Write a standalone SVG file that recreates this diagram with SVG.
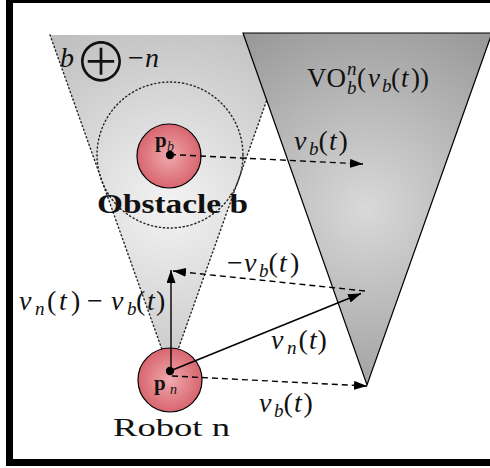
<svg xmlns="http://www.w3.org/2000/svg" width="490" height="468" viewBox="0 0 490 468">
<defs>
<radialGradient id="gCone" gradientUnits="userSpaceOnUse" cx="170" cy="205" r="210">
<stop offset="0" stop-color="#f3f3f3"/>
<stop offset="1" stop-color="#bcbcbc"/>
</radialGradient>
<radialGradient id="gVO" gradientUnits="userSpaceOnUse" cx="366" cy="209" r="215">
<stop offset="0" stop-color="#d9d9d9"/>
<stop offset="1" stop-color="#979797"/>
</radialGradient>
<radialGradient id="gBall" cx="0.5" cy="0.5" r="0.5">
<stop offset="0" stop-color="#f0aaae"/>
<stop offset="1" stop-color="#d8656e"/>
</radialGradient>
<marker id="ah" markerUnits="userSpaceOnUse" markerWidth="14" markerHeight="10" refX="13" refY="4.5" orient="auto">
<path d="M0,0 L13,4.5 L0,9 Z" fill="#000"/>
</marker>
</defs>
<style>
.dot{fill:none;stroke:#222;stroke-width:1.4;stroke-dasharray:1.2 2.8;stroke-linecap:round}
.dash{fill:none;stroke:#000;stroke-width:1.4;stroke-dasharray:6 4;marker-end:url(#ah)}
.solid{fill:none;stroke:#000;stroke-width:1.4;marker-end:url(#ah)}
.ball{fill:url(#gBall);stroke:#000;stroke-width:1.2}
.m{font-family:"Liberation Serif",serif;font-size:28px;fill:#111}
.i{font-style:italic}
.s{font-size:19px;font-style:italic}
.bold{font-family:"Liberation Serif",serif;font-weight:bold;fill:#111}
</style>
<rect x="0" y="0" width="490" height="468" fill="#fff"/>
<g id="cone-bn">
<polygon points="50,35 290,35 170,372" fill="url(#gCone)"/>
<polyline points="50,35 170,372 290,35" class="dot"/>
<circle cx="170" cy="155" r="73" class="dot"/>
</g>
<g id="vo-cone">
<polygon points="243,33 492,33 367,385" fill="url(#gVO)" stroke="#000" stroke-width="1.2"/>
</g>
<g id="obstacle-b">
<circle cx="169" cy="156" r="32" class="ball"/>
</g>
<g id="robot-n">
<circle cx="170" cy="380" r="32" class="ball"/>
</g>
<g id="connectors">
<line x1="170" y1="154.5" x2="363" y2="164" class="dash"/>
<line x1="170" y1="371" x2="361" y2="293.5" class="solid"/>
<line x1="172" y1="376" x2="367" y2="386" class="dash"/>
<line x1="365" y1="291" x2="173" y2="271" class="dash"/>
<line x1="171" y1="371" x2="171" y2="270" class="solid"/>
</g>
<g id="dots">
<circle cx="170" cy="155" r="4.2" fill="#000"/>
<circle cx="170" cy="371" r="4.2" fill="#000"/>
</g>
<g id="labels">
<text class="m"><tspan class="i" x="60" y="67">b</tspan></text>
<text x="74" y="82" style="font-family:'Noto Sans CJK SC',sans-serif;font-size:54px;font-weight:300;fill:#111">⊕</text>
<text class="m"><tspan x="128" y="67">−</tspan><tspan class="i" x="145" y="67">n</tspan></text>
<text class="m" style="font-size:27px"><tspan x="307" y="87">VO</tspan><tspan class="s" x="347" y="75">n</tspan><tspan class="s" x="347" y="94">b</tspan><tspan x="357" y="87">(</tspan><tspan class="i" x="368" y="87">v</tspan><tspan class="s" x="382" y="92">b</tspan><tspan x="391" y="87">(</tspan><tspan class="i" x="401" y="87">t</tspan><tspan x="411" y="87">))</tspan></text>
<text class="bold" style="font-size:21px"><tspan x="155" y="147">p</tspan><tspan style="font-size:14px;font-weight:normal;font-style:italic" x="167" y="151">b</tspan></text>
<text class="bold" style="font-size:21px"><tspan x="154" y="390">p</tspan><tspan style="font-size:14px;font-weight:normal;font-style:italic" x="170" y="394">n</tspan></text>
<text class="bold" x="97" y="213" style="font-size:28px" textLength="151" lengthAdjust="spacingAndGlyphs">Obstacle b</text>
<text class="m" x="113" y="436" style="font-size:26px" textLength="117" lengthAdjust="spacingAndGlyphs">Robot n</text>
<text class="m"><tspan class="i" x="294" y="150">v</tspan><tspan class="s" x="309" y="155">b</tspan><tspan x="318.5" y="150">(</tspan><tspan class="i" x="329" y="150">t</tspan><tspan x="338.5" y="150">)</tspan></text>
<text class="m"><tspan x="227" y="272">−</tspan><tspan class="i" x="244" y="272">v</tspan><tspan class="s" x="259" y="277">b</tspan><tspan x="268.5" y="272">(</tspan><tspan class="i" x="279" y="272">t</tspan><tspan x="290" y="272">)</tspan></text>
<text class="m"><tspan class="i" x="271" y="349">v</tspan><tspan class="s" x="287" y="354">n</tspan><tspan x="298.5" y="349">(</tspan><tspan class="i" x="309" y="349">t</tspan><tspan x="317.5" y="349">)</tspan></text>
<text class="m"><tspan class="i" x="259" y="412">v</tspan><tspan class="s" x="274" y="417">b</tspan><tspan x="283.5" y="412">(</tspan><tspan class="i" x="294" y="412">t</tspan><tspan x="303.5" y="412">)</tspan></text>
<text class="m"><tspan class="i" x="19" y="310">v</tspan><tspan class="s" x="35" y="315">n</tspan><tspan x="47" y="310">(</tspan><tspan class="i" x="59" y="310">t</tspan><tspan x="71" y="310">)</tspan><tspan x="87" y="310">−</tspan><tspan class="i" x="111" y="310">v</tspan><tspan class="s" x="127" y="315">b</tspan><tspan x="136" y="310">(</tspan><tspan class="i" x="147" y="310">t</tspan><tspan x="156" y="310">)</tspan></text>
</g>
<rect x="9.5" y="-0.5" width="495" height="463" fill="none" stroke="#000" stroke-width="7"/>
</svg>
